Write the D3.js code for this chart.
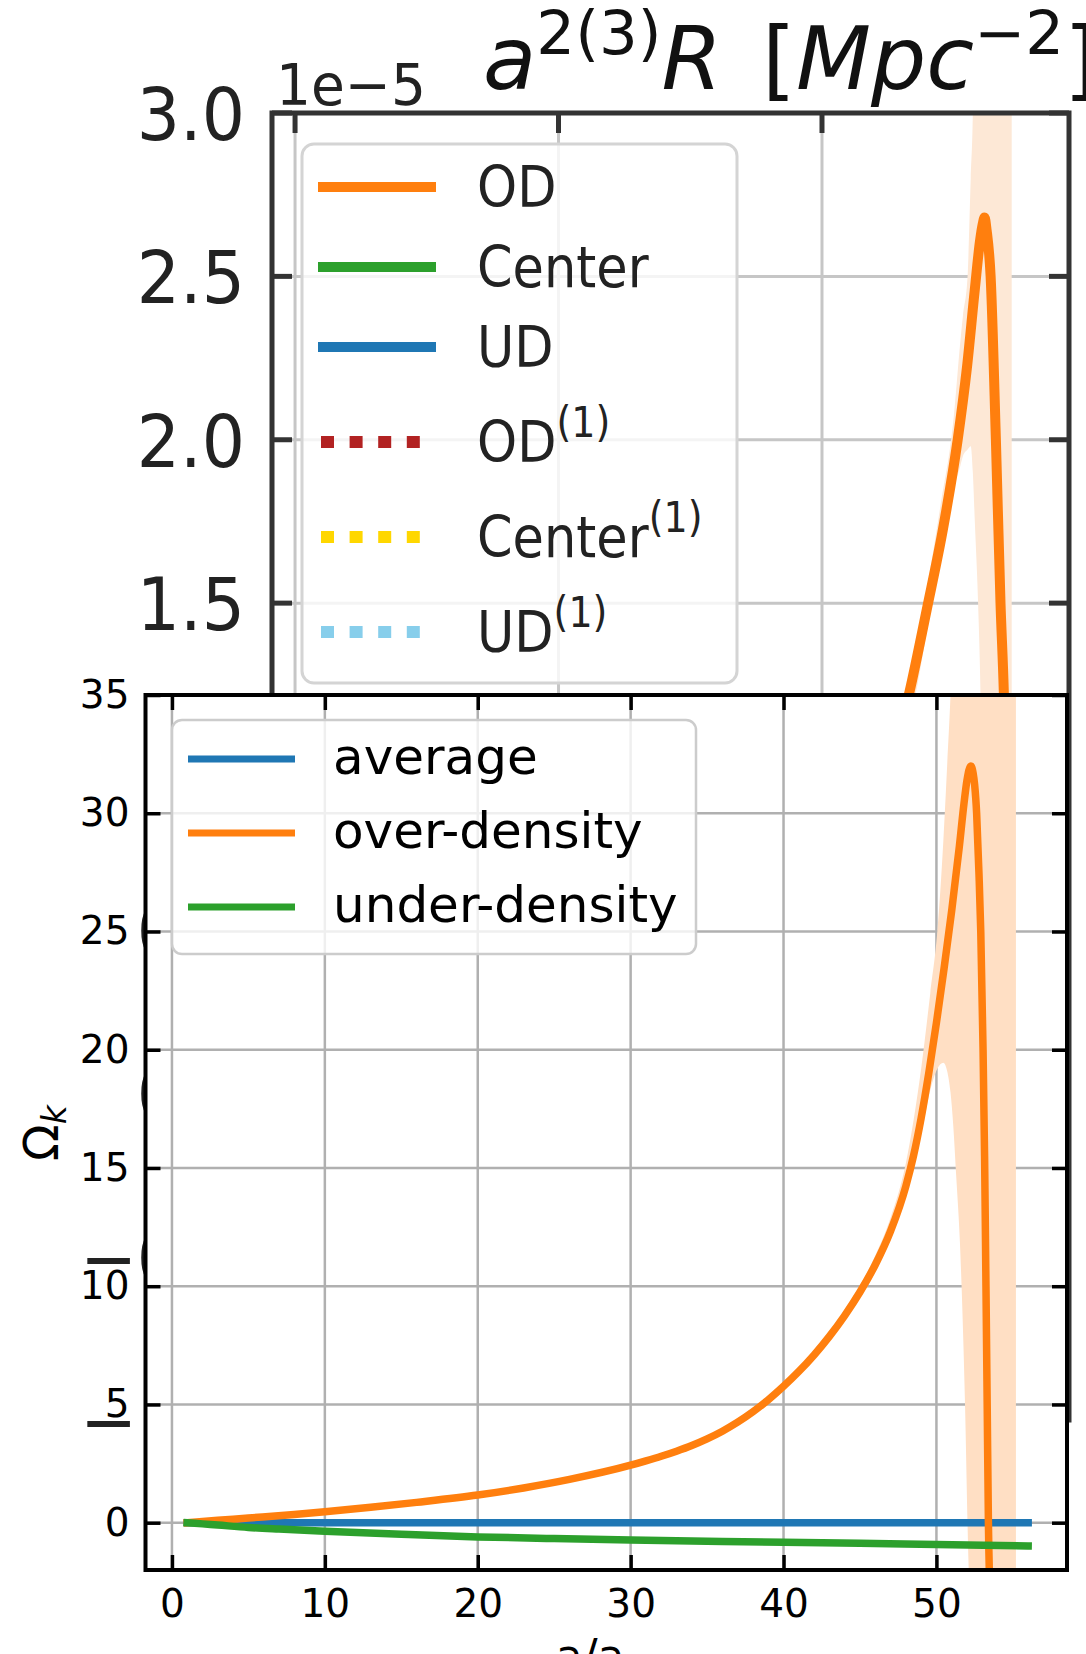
<!DOCTYPE html>
<html>
<head>
<meta charset="utf-8">
<script src="https://cdn.jsdelivr.net/npm/d3@7"></script>
<style>
  body { margin: 0; background: #fff; }
  svg { display: block; }
  text { font-family: "DejaVu Sans", sans-serif; }
</style>
</head>
<body>
<svg></svg>
<script>
// ---------- back panel: a^2(3) R, values in units of 1e-5 ----------
const bgXTicks = [0, 20, 40];
const bgYTicks = [-1.0, -0.5, 0.0, 0.5, 1.0, 1.5, 2.0, 2.5, 3.0];
const bgLegendLabels = ["OD", "Center", "UD", "OD", "Center", "UD"];
const bgLegendSup = ["", "", "", "(1)", "(1)", "(1)"];
const bgLegendColors = ["#ff7f0e", "#2ca02c", "#1f77b4", "#b22222", "#ffd700", "#87ceeb"];
const bgLegendDotted = [false, false, false, true, true, true];

const bgOdX = [44.5, 46.65, 47.95, 49.2, 50.3, 51.0, 51.6, 52.0, 52.2, 52.34, 52.5, 52.8, 53.2, 53.55, 53.8, 54.0];
const bgOdY = [0.9, 1.23, 1.48, 1.73, 2.0, 2.22, 2.46, 2.61, 2.66, 2.68, 2.64, 2.5, 2.0, 1.5, 1.23, 0.9];

const bgBandX =    [46.0, 47.0, 48.0, 49.0, 50.0, 50.5, 50.7, 51.05, 51.29, 51.45, 51.6, 51.85, 52.05, 52.4, 52.6, 54.4];
const bgBandLow =  [1.05, 1.2, 1.42, 1.63, 1.85, 1.92, 1.95, 1.97, 1.98, 1.9, 1.75, 1.5, 1.2, 0.0, -1.2, -1.2];
const bgBandHigh = [1.12, 1.3, 1.55, 1.8, 2.07, 2.3, 2.38, 2.5, 2.8, 3.0, 3.5, 3.5, 3.5, 3.5, 3.5, 3.5];

// ---------- front panel: Omega_k ----------
const fgXTicks = [0, 10, 20, 30, 40, 50];
const fgYTicks = [0, 5, 10, 15, 20, 25, 30, 35];
const seriesNames = ["average", "over-density", "under-density"];
const seriesColors = ["#1f77b4", "#ff7f0e", "#2ca02c"];

const avgX = [1, 10, 20, 30, 40, 50, 56];
const avgY = [0, 0, 0, 0, 0, 0, 0];

const odX = [1, 3, 5, 8, 10, 13, 16, 20, 23, 26, 30, 31, 32, 33, 34, 35, 36, 37, 38, 39, 40, 41, 42, 43, 44, 45, 46, 47, 48,
             48.5, 49, 49.5, 50, 50.5, 51, 51.5, 51.8, 52.0, 52.25, 52.4, 52.5, 52.63, 52.78, 52.9, 53.05, 53.15, 53.24, 53.32, 53.4, 53.5];
const odY = [0, 0.1, 0.2, 0.35, 0.46, 0.65, 0.86, 1.17, 1.47, 1.83, 2.43, 2.615, 2.81, 3.025, 3.265, 3.545, 3.87, 4.25, 4.69, 5.195, 5.765,
             6.395, 7.095, 7.88, 8.76, 9.755, 10.91, 12.33, 14.23,
             15.51, 17.11, 19.01, 21.14, 23.44, 25.89, 28.6, 30.4, 31.4, 32.0, 31.7, 31.2, 30.0, 27.5, 25.0, 20.0, 15.5, 10.0, 5.0, 0.0, -3.0];

const udX = [1, 2, 3, 5, 7, 10, 15, 20, 25, 30, 35, 40, 45, 50, 56];
const udY = [0, -0.05, -0.1, -0.2, -0.27, -0.36, -0.49, -0.6, -0.67, -0.73, -0.78, -0.83, -0.87, -0.92, -0.98];

const bandX =    [44, 46, 47, 48, 49, 49.6, 50.06, 50.45, 50.7, 50.92, 51.1, 51.3, 51.54, 51.87, 52.09, 52.3, 55.2];
const bandLow =  [8.6, 10.6, 12.0, 13.9, 16.4, 18.3, 19.2, 19.45, 19.1, 18.2, 16.8, 14.6, 11.8, 5.0, -1.5, -5, -5];
const bandHigh = [9.0, 11.3, 12.9, 15.2, 19.2, 22.4, 25.0, 28.8, 32.0, 35.0, 38.5, 40, 40, 40, 40, 40, 40];

const W = 1086, H = 1654;
const svg = d3.select("svg").attr("width", W).attr("height", H);
const defs = svg.append("defs");

// text helper for the back panel, whose picture is stretched a little vertically
function stretched(parent, x, y, size, anchor, s) {
  return parent.append("text")
    .attr("transform", `translate(${x},${y}) scale(1,${s})`)
    .attr("font-size", size)
    .attr("text-anchor", anchor)
    .attr("fill", "#222");
}

// ================= back panel =================
const bb = {l: 272, r: 1069, t: 113, b: 1420};
const bx = d3.scaleLinear().domain([-1.75, 58.75]).range([bb.l, bb.r]);
const by = d3.scaleLinear().domain([-1, 3]).range([bb.b, bb.t]);
const bg = svg.append("g");

defs.append("clipPath").attr("id", "bgclip")
  .append("rect").attr("x", bb.l).attr("y", bb.t).attr("width", bb.r - bb.l).attr("height", bb.b - bb.t);

bg.selectAll(".bgv").data(bgXTicks).join("line")
  .attr("x1", d => bx(d)).attr("x2", d => bx(d)).attr("y1", bb.t).attr("y2", bb.b)
  .attr("stroke", "#c6c6c6").attr("stroke-width", 3);
bg.selectAll(".bgh").data(bgYTicks).join("line")
  .attr("x1", bb.l).attr("x2", bb.r).attr("y1", d => by(d)).attr("y2", d => by(d))
  .attr("stroke", "#c6c6c6").attr("stroke-width", 3);

bg.append("path")
  .datum(bgBandX.map((x, i) => [x, bgBandLow[i], bgBandHigh[i]]))
  .attr("d", d3.area().x(d => bx(d[0])).y0(d => by(d[1])).y1(d => by(d[2])).curve(d3.curveMonotoneX))
  .attr("fill", "#fde8d6")
  .attr("clip-path", "url(#bgclip)");

bg.append("path")
  .datum(bgOdX.map((x, i) => [x, bgOdY[i]]))
  .attr("d", d3.line().x(d => bx(d[0])).y(d => by(d[1])).curve(d3.curveMonotoneX))
  .attr("fill", "none").attr("stroke", "#ff7f0e").attr("stroke-width", 10)
  .attr("clip-path", "url(#bgclip)");

bg.append("rect")
  .attr("x", bb.l).attr("y", bb.t).attr("width", bb.r - bb.l).attr("height", bb.b - bb.t)
  .attr("fill", "none").attr("stroke", "#333").attr("stroke-width", 5);

// inward ticks on all four sides
bg.selectAll(".bgtl").data(bgYTicks).join("line")
  .attr("x1", bb.l).attr("x2", bb.l + 20).attr("y1", d => by(d)).attr("y2", d => by(d))
  .attr("stroke", "#333").attr("stroke-width", 5);
bg.selectAll(".bgtr").data(bgYTicks).join("line")
  .attr("x1", bb.r).attr("x2", bb.r - 20).attr("y1", d => by(d)).attr("y2", d => by(d))
  .attr("stroke", "#333").attr("stroke-width", 5);
bg.selectAll(".bgtt").data(bgXTicks).join("line")
  .attr("x1", d => bx(d)).attr("x2", d => bx(d)).attr("y1", bb.t).attr("y2", bb.t + 20)
  .attr("stroke", "#333").attr("stroke-width", 5);

bgYTicks.forEach(v => {
  stretched(bg, 245, by(v) + 27, 68, "end", 1.08).text(d3.format(".1f")(v));
});
stretched(bg, 276, 105, 55, "start", 1.05).text("1e\u22125");

// title  a^{2(3)}R  [Mpc^{-2}]
const title = bg.append("text").attr("x", 483).attr("y", 89).attr("font-size", 87).attr("fill", "#111");
title.append("tspan").attr("font-style", "italic").text("a");
title.append("tspan").attr("font-size", 61).attr("dy", -35).text("2(3)");
title.append("tspan").attr("font-style", "italic").attr("dy", 35).text("R");
title.append("tspan").attr("dx", 40).text("[");
title.append("tspan").attr("font-style", "italic").text("Mpc");
title.append("tspan").attr("font-size", 61).attr("dy", -35).text("\u22122");
title.append("tspan").attr("dy", 35).text("]");

// back legend
const bgLeg = bg.append("g");
bgLeg.append("rect").attr("x", 302).attr("y", 144).attr("width", 435).attr("height", 539).attr("rx", 12)
  .attr("fill", "#fff").attr("fill-opacity", 0.8).attr("stroke", "#d4d4d4").attr("stroke-width", 3);
bgLegendLabels.forEach((lab, i) => {
  const y = 187 + 80 * i + 15 * Math.max(0, i - 2);
  const dotted = bgLegendDotted[i];
  bgLeg.append("line")
    .attr("x1", dotted ? 321 : 318).attr("x2", dotted ? 424 : 436).attr("y1", y).attr("y2", y)
    .attr("stroke", bgLegendColors[i]).attr("stroke-width", dotted ? 12 : 10)
    .attr("stroke-dasharray", dotted ? "13,15.6" : null);
  const t = stretched(bgLeg, 477, y + 20, 51, "start", 1.1);
  t.append("tspan").text(lab);
  if (bgLegendSup[i]) t.append("tspan").attr("font-size", 38).attr("dy", -23).text(bgLegendSup[i]);
});

// ================= front panel =================
const fb = {l: 145.5, r: 1067, t: 695, b: 1570};
const fx = d3.scaleLinear().domain([-1.73, 58.54]).range([fb.l, fb.r]);
const fy = d3.scaleLinear().domain([-2, 35]).range([fb.b, fb.t]);
const fg = svg.append("g");

defs.append("clipPath").attr("id", "fgclip")
  .append("rect").attr("x", fb.l).attr("y", fb.t).attr("width", fb.r - fb.l).attr("height", fb.b - fb.t);

fg.append("rect").attr("x", fb.l).attr("y", fb.t).attr("width", fb.r - fb.l).attr("height", fb.b - fb.t)
  .attr("fill", "#fff");

fg.selectAll(".gv").data(fgXTicks).join("line")
  .attr("x1", d => fx(d)).attr("x2", d => fx(d)).attr("y1", fb.t).attr("y2", fb.b)
  .attr("stroke", "#b0b0b0").attr("stroke-width", 2.5);
fg.selectAll(".gh").data(fgYTicks).join("line")
  .attr("x1", fb.l).attr("x2", fb.r).attr("y1", d => fy(d)).attr("y2", d => fy(d))
  .attr("stroke", "#b0b0b0").attr("stroke-width", 2.5);

fg.append("path")
  .datum(bandX.map((x, i) => [x, bandLow[i], bandHigh[i]]))
  .attr("d", d3.area().x(d => fx(d[0])).y0(d => fy(d[1])).y1(d => fy(d[2])).curve(d3.curveMonotoneX))
  .attr("fill", "#ffdfc4")
  .attr("clip-path", "url(#fgclip)");

const line = d3.line().x(d => fx(d[0])).y(d => fy(d[1])).curve(d3.curveMonotoneX);
[[avgX, avgY], [odX, odY], [udX, udY]].forEach(([xs, ys], i) => {
  fg.append("path")
    .datum(xs.map((x, j) => [x, ys[j]]))
    .attr("d", line)
    .attr("fill", "none").attr("stroke", seriesColors[i]).attr("stroke-width", 7.5)
    .attr("stroke-linecap", "square").attr("stroke-linejoin", "round")
    .attr("clip-path", "url(#fgclip)");
});

// axes with inward ticks
function styleAxis(g) {
  g.select(".domain").remove();
  g.selectAll(".tick line").attr("stroke", "#000").attr("stroke-width", 3.5);
  g.selectAll("text").attr("font-size", 39).attr("font-family", "'DejaVu Sans', sans-serif").attr("fill", "#000");
}
fg.append("g").attr("transform", `translate(0,${fb.b})`)
  .call(d3.axisBottom(fx).tickValues(fgXTicks).tickSize(-15).tickPadding(19)).call(styleAxis);
fg.append("g").attr("transform", `translate(0,${fb.t})`)
  .call(d3.axisTop(fx).tickValues(fgXTicks).tickSize(-15).tickFormat("")).call(styleAxis);
fg.append("g").attr("transform", `translate(${fb.l},0)`)
  .call(d3.axisLeft(fy).tickValues(fgYTicks).tickSize(-15).tickPadding(16)).call(styleAxis);
fg.append("g").attr("transform", `translate(${fb.r},0)`)
  .call(d3.axisRight(fy).tickValues(fgYTicks).tickSize(-15).tickFormat("")).call(styleAxis);

fg.append("rect").attr("x", fb.l).attr("y", fb.t).attr("width", fb.r - fb.l).attr("height", fb.b - fb.t)
  .attr("fill", "none").attr("stroke", "#000").attr("stroke-width", 4);

// axis labels (the x label is cut by the bottom of the picture, as in the source)
const xl = fg.append("text").attr("x", 600).attr("y", 1671).attr("font-size", 44).attr("text-anchor", "middle");
xl.append("tspan").text("a/a");
xl.append("tspan").attr("font-size", 31).attr("dy", 8).text("0");

const yl = fg.append("text").attr("transform", "translate(58,1133) rotate(-90)")
  .attr("font-size", 48).attr("text-anchor", "middle");
yl.append("tspan").text("\u03a9");
yl.append("tspan").attr("font-size", 33).attr("font-style", "italic").attr("dy", 8).text("k");

// front legend
const leg = fg.append("g");
leg.append("rect").attr("x", 172).attr("y", 720).attr("width", 524).attr("height", 234).attr("rx", 10)
  .attr("fill", "#fff").attr("fill-opacity", 0.8).attr("stroke", "#cccccc").attr("stroke-width", 2.5);
seriesNames.forEach((name, i) => {
  const y = 759 + 74 * i;
  leg.append("line").attr("x1", 188).attr("x2", 295).attr("y1", y).attr("y2", y)
    .attr("stroke", seriesColors[i]).attr("stroke-width", 7);
  leg.append("text").attr("x", 333).attr("y", y + 15).attr("font-size", 50).text(name);
});
</script>
</body>
</html>
